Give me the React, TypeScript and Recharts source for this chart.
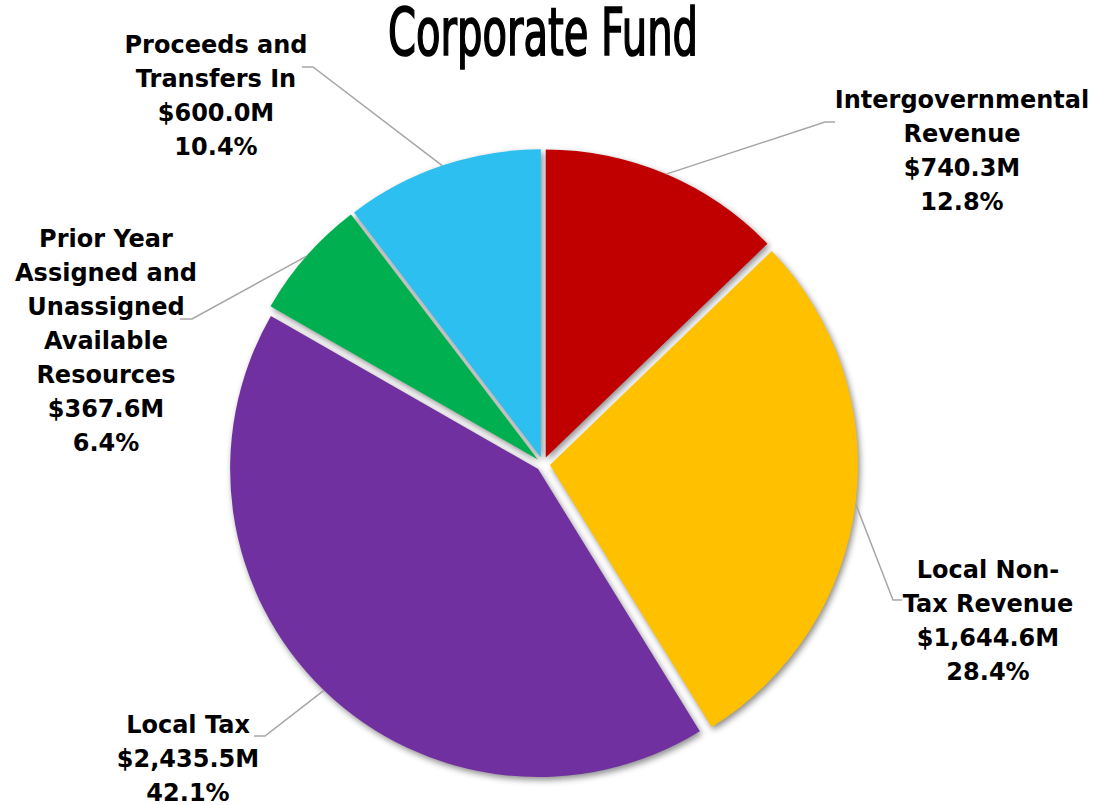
import React from "react";
import { PieChart, Pie, Sector } from "recharts";

const categories = [
  "Intergovernmental Revenue",
  "Local Non-Tax Revenue",
  "Local Tax",
  "Prior Year Assigned and Unassigned Available Resources",
  "Proceeds and Transfers In",
];
const labelLines = [
  ["Intergovernmental", "Revenue"],
  ["Local Non-", "Tax Revenue"],
  ["Local Tax"],
  ["Prior Year", "Assigned and", "Unassigned", "Available", "Resources"],
  ["Proceeds and", "Transfers In"],
];
const values = [740.3, 1644.6, 2435.5, 367.6, 600.0];
const colors = ["#C00000", "#FFC000", "#7030A0", "#00B050", "#2CBFEF"];

const data = categories.map((name, i) => ({ name, value: values[i], fill: colors[i] }));

// label layout: text center x, first baseline y, elbow point, line end
const labelLayout = [
  { x: 962, y: 108, ex: 825, ey: 122, lx: 835, ly: 122 },
  { x: 988, y: 578, ex: 893, ey: 600, lx: 902, ly: 600 },
  { x: 188, y: 733, ex: 265, ey: 736, lx: 254, ly: 736 },
  { x: 106, y: 247, ex: 192, ey: 319, lx: 180, ly: 319 },
  { x: 216, y: 53, ex: 313, ey: 67, lx: 302, ly: 67 },
];

const EXPLODE = 7;
const RAD = Math.PI / 180;
const LINE_H = 34;

const offset = (midAngle: number, d: number) => ({
  dx: d * Math.cos(-midAngle * RAD),
  dy: d * Math.sin(-midAngle * RAD),
});

const renderSlice = (props: any) => {
  const { cx, cy, midAngle, innerRadius, outerRadius, startAngle, endAngle, fill } = props;
  const { dx, dy } = offset(midAngle, EXPLODE);
  return (
    <Sector
      cx={cx + dx}
      cy={cy + dy}
      innerRadius={innerRadius}
      outerRadius={outerRadius}
      startAngle={startAngle}
      endAngle={endAngle}
      fill={fill}
      stroke="none"
    />
  );
};

const renderShadow = (props: any) => {
  const { cx, cy, midAngle, innerRadius, outerRadius, startAngle, endAngle } = props;
  const { dx, dy } = offset(midAngle, EXPLODE);
  return (
    <Sector
      cx={cx + dx + 2}
      cy={cy + dy + 3}
      innerRadius={innerRadius}
      outerRadius={outerRadius}
      startAngle={startAngle}
      endAngle={endAngle}
      fill="#000"
      fillOpacity={0.45}
      stroke="none"
      filter="url(#sliceBlur)"
    />
  );
};

const fmtMoney = (v: number) =>
  "$" + v.toLocaleString("en-US", { minimumFractionDigits: 1, maximumFractionDigits: 1 }) + "M";

const renderLabel = (props: any) => {
  const { cx, cy, midAngle, outerRadius, index, value, percent } = props;
  const L = labelLayout[index];
  const r = outerRadius + EXPLODE;
  const ax = cx + r * Math.cos(-midAngle * RAD);
  const ay = cy + r * Math.sin(-midAngle * RAD);
  const lines = [...labelLines[index], fmtMoney(value), (percent * 100).toFixed(1) + "%"];
  return (
    <g key={"lbl" + index}>
      <polyline
        points={`${ax},${ay} ${L.ex},${L.ey} ${L.lx},${L.ly}`}
        fill="none"
        stroke="#A6A6A6"
        strokeWidth={1.5}
      />
      <text
        x={L.x}
        y={L.y}
        textAnchor="middle"
        fontFamily="'DejaVu Sans', sans-serif"
        fontWeight="bold"
        fontSize={24}
        fill="#000"
      >
        {lines.map((t, k) => (
          <tspan key={k} x={L.x} y={L.y + k * LINE_H}>
            {t}
          </tspan>
        ))}
      </text>
    </g>
  );
};

export default function App() {
  return (
    <div style={{ position: "absolute", left: 0, top: 0, width: 1094, height: 805, background: "#fff" }}>
      <svg width={0} height={0} style={{ position: "absolute" }}>
        <defs>
          <filter id="sliceBlur" x="-20%" y="-20%" width="140%" height="140%">
            <feGaussianBlur stdDeviation={3} />
          </filter>
        </defs>
      </svg>
      <PieChart width={1094} height={805} margin={{ top: 0, right: 0, bottom: 0, left: 0 }}>
        <Pie
          data={data}
          dataKey="value"
          nameKey="name"
          cx={543}
          cy={464}
          outerRadius={308}
          startAngle={90}
          endAngle={-270}
          isAnimationActive={false}
          shape={renderShadow}
          stroke="none"
          label={false}
          labelLine={false}
        />
        <Pie
          data={data}
          dataKey="value"
          nameKey="name"
          cx={543}
          cy={464}
          outerRadius={308}
          startAngle={90}
          endAngle={-270}
          isAnimationActive={false}
          shape={renderSlice}
          stroke="none"
          label={renderLabel}
          labelLine={false}
        />
      </PieChart>
      <svg width={1094} height={100} style={{ position: "absolute", left: 0, top: 0 }}>
        <text
          x={543}
          y={55}
          textAnchor="middle"
          fontFamily="'Liberation Sans Narrow', 'DejaVu Sans Condensed', sans-serif"
          fontWeight="normal"
          fontSize={65}
          textLength={310}
          lengthAdjust="spacingAndGlyphs"
          fill="#000"
          stroke="#000"
          strokeWidth={1.7}
        >
          Corporate Fund
        </text>
      </svg>
    </div>
  );
}
